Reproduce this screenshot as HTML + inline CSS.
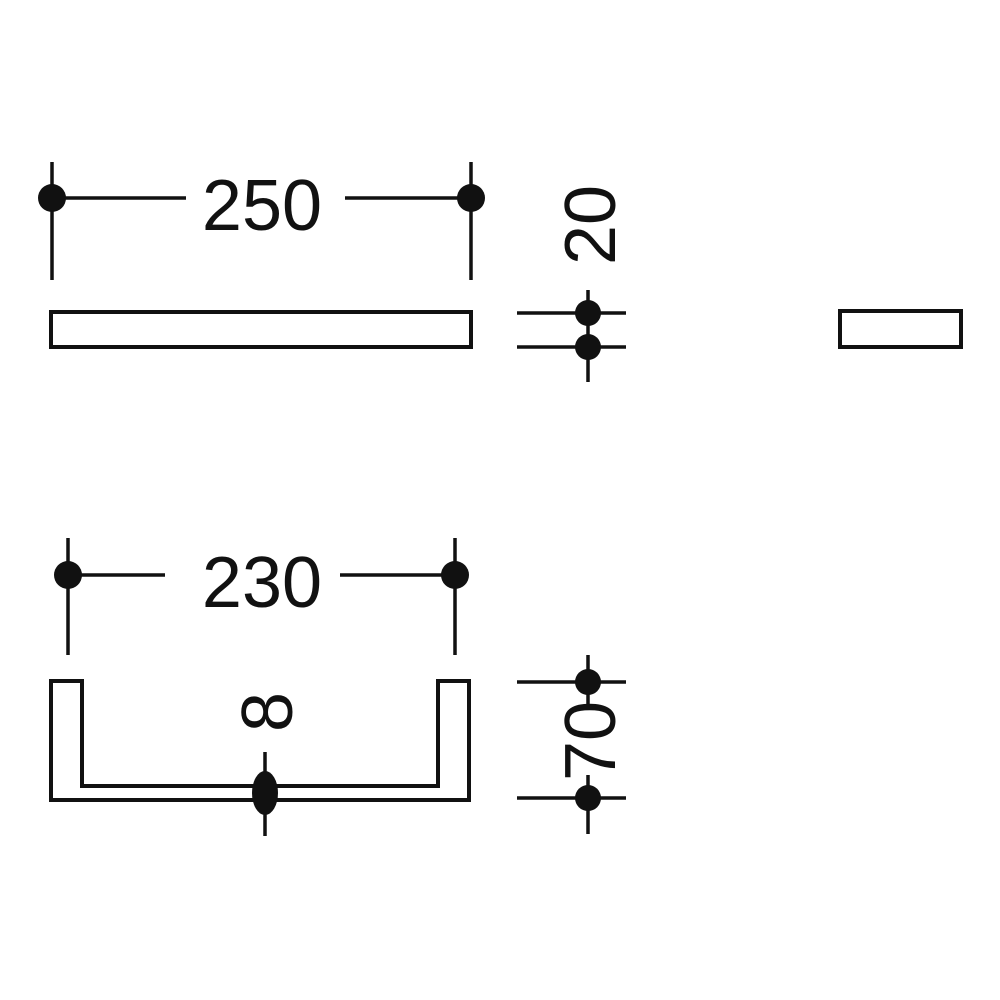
<!DOCTYPE html>
<html><head><meta charset="utf-8"><style>html,body{margin:0;padding:0;background:#fff}svg{display:block}</style></head>
<body>
<svg width="1000" height="1000" viewBox="0 0 1000 1000" xmlns="http://www.w3.org/2000/svg">
<g stroke="#111" stroke-width="3.5" fill="none">
<!-- 250 dim -->
<line x1="52" y1="162" x2="52" y2="280"/>
<line x1="471" y1="162" x2="471" y2="280"/>
<line x1="52" y1="198" x2="186" y2="198"/>
<line x1="345" y1="198" x2="471" y2="198"/>
<rect x="51" y="312" width="420" height="35" stroke-width="4"/>
<!-- 20 dim -->
<line x1="517" y1="313" x2="626" y2="313"/>
<line x1="517" y1="347" x2="626" y2="347"/>
<line x1="588" y1="290" x2="588" y2="382"/>
<rect x="840" y="311" width="121" height="36" stroke-width="4"/>
<!-- 230 dim -->
<line x1="68" y1="538" x2="68" y2="655"/>
<line x1="455" y1="538" x2="455" y2="655"/>
<line x1="68" y1="575" x2="165" y2="575"/>
<line x1="340" y1="575" x2="455" y2="575"/>
<!-- U shape -->
<path d="M51 681 H82 V786 H438 V681 H469 V800 H51 Z" stroke-width="4"/>
<!-- 8 dim -->
<line x1="265" y1="752" x2="265" y2="836"/>
<!-- 70 dim -->
<line x1="517" y1="682" x2="626" y2="682"/>
<line x1="517" y1="798" x2="626" y2="798"/>
<line x1="588" y1="655" x2="588" y2="705"/>
<line x1="588" y1="775" x2="588" y2="834"/>
</g>
<g fill="#111">
<circle cx="52" cy="198" r="14"/>
<circle cx="471" cy="198" r="14"/>
<circle cx="588" cy="313" r="13"/>
<circle cx="588" cy="347" r="13"/>
<circle cx="68" cy="575" r="14"/>
<circle cx="455" cy="575" r="14"/>
<ellipse cx="265" cy="793" rx="13" ry="22"/>
<circle cx="588" cy="682" r="13"/>
<circle cx="588" cy="798" r="13"/>
</g>
<g font-family="Liberation Sans, sans-serif" font-size="72" fill="#111">
<text x="262" y="230" text-anchor="middle">250</text>
<text x="262" y="607" text-anchor="middle">230</text>
<text transform="translate(615,225) rotate(-90)" text-anchor="middle">20</text>
<text transform="translate(292,712) rotate(-90)" text-anchor="middle">8</text>
<text transform="translate(615,741) rotate(-90)" text-anchor="middle">70</text>
</g>
</svg>
</body></html>
